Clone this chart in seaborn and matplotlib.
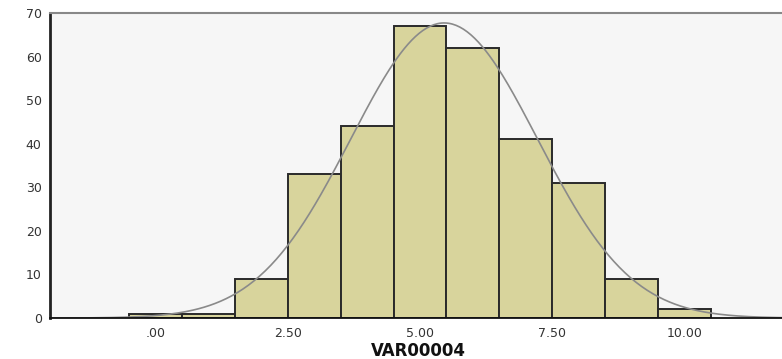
import numpy as np
import pandas as pd
import matplotlib
matplotlib.use("Agg")
import matplotlib.pyplot as plt
import seaborn as sns

values = [0, 1, 2, 3, 4, 5, 6, 7, 8, 9, 10]
counts = [1, 1, 9, 33, 44, 67, 62, 41, 31, 9, 2]
xticks = [0, 2.5, 5, 7.5, 10]
xtick_labels = [".00", "2.50", "5.00", "7.50", "10.00"]
yticks = [0, 10, 20, 30, 40, 50, 60, 70]

df = pd.DataFrame({"VAR00004": np.repeat(values, counts)})

sns.set_style("white")
plt.rcParams["font.family"] = ["DejaVu Sans"]

fig = plt.figure(figsize=(7.82, 3.59), dpi=100)
ax = fig.add_axes([0.064, 0.114, 0.936, 0.850])
ax.set_facecolor("#f6f6f6")

sns.histplot(data=df, x="VAR00004", discrete=True, ax=ax,
             color="#d8d49c", edgecolor="#2a2a2a", linewidth=1.4, alpha=1)

# courbe normale
mu = df["VAR00004"].mean()
sd = df["VAR00004"].std()
n = len(df)
xs = np.linspace(-2, 12, 400)
ys = n * np.exp(-0.5 * ((xs - mu) / sd) ** 2) / (sd * np.sqrt(2 * np.pi))
ax.plot(xs, ys, color="#8a8a8a", linewidth=1.2)

ax.set_xlim(-2, 11.85)
ax.set_ylim(0, 70)
ax.set_xticks(xticks)
ax.set_xticklabels(xtick_labels)
ax.set_yticks(yticks)
ax.tick_params(axis="y", direction="out", length=5, width=1, color="#333333",
               labelsize=9, pad=1, labelcolor="#333333")
ax.tick_params(axis="x", direction="out", length=5, width=1.5, color="#888888",
               labelsize=9, pad=1.5, labelcolor="#333333")
ax.set_ylabel("")
ax.set_xlabel("")
fig.text(0.535, 1 - 350.5 / 359, "VAR00004", ha="center", va="center",
         fontsize=12, fontweight="bold", color="#111111")

ax.spines["left"].set_color("#222222")
ax.spines["left"].set_linewidth(2)
ax.spines["bottom"].set_color("#111111")
ax.spines["bottom"].set_linewidth(1.3)
ax.spines["top"].set_color("#888888")
ax.spines["top"].set_linewidth(1.5)
ax.spines["right"].set_visible(False)

plt.savefig("out.png", dpi=100)
plt.close()
